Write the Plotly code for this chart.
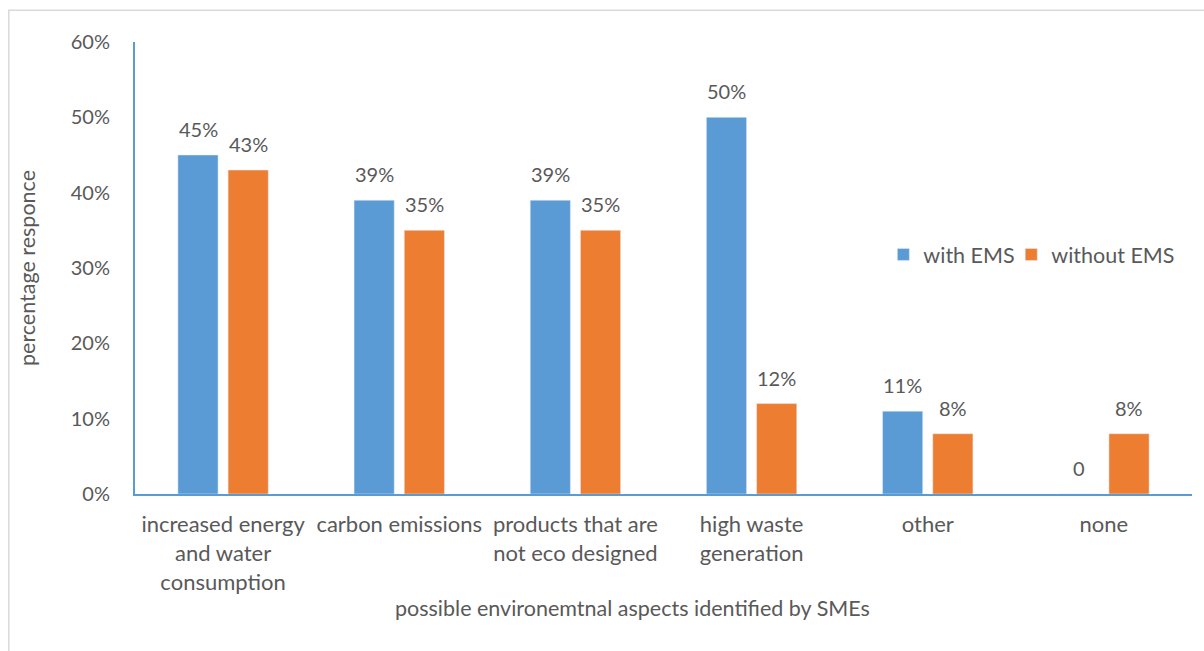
import plotly.graph_objects as go

# Survey results: share of SMEs naming each environmental aspect
categories = [
    "increased energy<br>and water<br>consumption",
    "carbon emissions",
    "products that are<br>not eco designed",
    "high waste<br>generation",
    "other",
    "none",
]
with_ems = [0.45, 0.39, 0.39, 0.50, 0.11, 0.0]
without_ems = [0.43, 0.35, 0.35, 0.12, 0.08, 0.08]
with_ems_labels = ["45%", "39%", "39%", "50%", "11%", "0"]
without_ems_labels = ["43%", "35%", "35%", "12%", "8%", "8%"]
y_ticks = [0, 0.1, 0.2, 0.3, 0.4, 0.5, 0.6]
y_tick_text = ["0%", "10%", "20%", "30%", "40%", "50%", "60%"]

BLUE = "#5B9BD5"
ORANGE = "#ED7D31"
GREY = "#595959"
FONT = "Lato, 'Open Sans', sans-serif"

fig = go.Figure()
fig.add_trace(go.Bar(name="with EMS", x=categories, y=with_ems,
                     marker_color=BLUE, legend="legend"))
fig.add_trace(go.Bar(name="without EMS", x=categories, y=without_ems,
                     marker_color=ORANGE, legend="legend2"))

# value labels above each bar, shifted left/right onto their bar in the group
for series, labels, shift in ((with_ems, with_ems_labels, -25),
                              (without_ems, without_ems_labels, 25)):
    for cat, val, lab in zip(categories, series, labels):
        fig.add_annotation(x=cat, y=val, text=lab, showarrow=False,
                           xshift=shift, yshift=12, yanchor="bottom",
                           font=dict(size=20, color=GREY, family=FONT))

# x-axis title, sitting slightly left of the plot centre
fig.add_annotation(xref="paper", yref="paper", x=0.471, y=-0.252,
                   xanchor="center", yanchor="middle", showarrow=False,
                   text="possible environemtnal aspects identified by SMEs",
                   font=dict(size=21.5, color=GREY, family=FONT))

legend_style = dict(orientation="h", y=0.53, xanchor="left", yanchor="middle",
                    font=dict(size=21.5, color=GREY), bgcolor="rgba(0,0,0,0)",
                    itemwidth=30)

fig.update_layout(
    width=1204, height=651,
    margin=dict(l=135, r=12, t=42, b=157, autoexpand=False),
    paper_bgcolor="white", plot_bgcolor="white",
    font=dict(family=FONT, size=20, color=GREY),
    barmode="group", bargap=0.43, bargroupgap=0.2,
    showlegend=True,
    legend=dict(x=0.708, **legend_style),
    legend2=dict(x=0.829, **legend_style),
)
fig.update_xaxes(
    showline=True, linecolor=BLUE, linewidth=2, showgrid=False,
    ticks="outside", ticklen=10, tickcolor="rgba(0,0,0,0)",
    tickfont=dict(size=22, color=GREY),
)
fig.update_yaxes(
    range=[0, 0.6], tickvals=y_ticks, ticktext=y_tick_text,
    showline=True, linecolor=BLUE, linewidth=2, showgrid=False, zeroline=False,
    ticks="outside", ticklen=19, tickcolor="rgba(0,0,0,0)",
    tickfont=dict(size=20, color=GREY),
    title=dict(text="percentage responce", font=dict(size=21.5, color=GREY), standoff=29),
)

# light frame around the chart area
fig.add_shape(type="rect", xref="paper", yref="paper",
              x0=-0.1194, x1=1.03, y0=-0.45, y1=1.07,
              line=dict(color="#D9D9D9", width=1.5), fillcolor="rgba(0,0,0,0)")

fig.write_html("out.html")
